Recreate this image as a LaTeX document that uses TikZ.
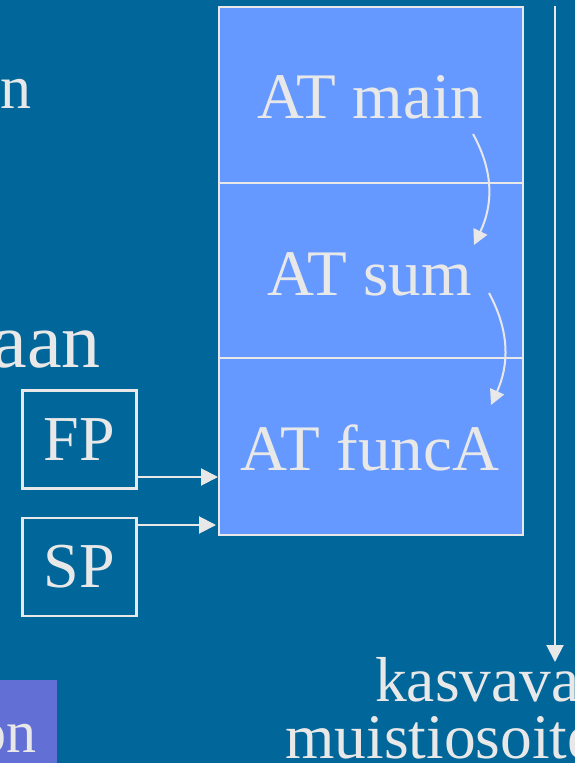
\documentclass[tikz,border=0pt]{standalone}
\usepackage{fontspec}
\setmainfont{Liberation Serif}
\usetikzlibrary{arrows.meta}
\definecolor{bgblue}{RGB}{1,102,153}
\definecolor{stackblue}{RGB}{102,153,255}
\definecolor{fg}{RGB}{232,232,232}
\definecolor{purplebox}{RGB}{98,112,214}
\tikzset{
  cell/.style={draw=fg, line width=2pt, fill=stackblue, minimum width=304pt, inner sep=0pt},
  regbox/.style={draw=fg, line width=2.5pt, minimum width=114pt, minimum height=98pt, inner sep=0pt, text=fg, font=\fontsize{64}{70}\selectfont},
  big/.style={text=fg, font=\fontsize{65}{70}\selectfont, inner sep=0pt},
  lowtext/.style={text=fg, font=\fontsize{63.5}{70}\selectfont, inner sep=0pt},
  arr/.style={draw=fg, line width=2pt, -{Triangle[length=17pt,width=17pt]}},
  carr/.style={draw=fg, line width=2pt, -{Triangle[length=15pt,width=15pt]}}
}
\begin{document}
\begin{tikzpicture}[x=1pt,y=-1pt]
\useasboundingbox (0,0) rectangle (575,763);
\fill[bgblue] (0,0) rectangle (575,763);
\clip (0,0) rectangle (575,763);
% purple box at bottom left
\node[fill=purplebox, minimum width=57pt, minimum height=83pt, inner sep=0pt, anchor=north west] (pbox) at (0,680) {};
% stack cells
\node[cell, minimum height=176pt, anchor=north west] (main) at (218,6) {};
\node[cell, minimum height=175pt, anchor=north west] (sum) at (218,182) {};
\node[cell, minimum height=177pt, anchor=north west] (funcA) at (218,357) {};
\node[big, anchor=base] (tmain) at (370,118) {AT main};
\node[big, anchor=base] (tsum) at (370,295) {AT sum};
\node[big, anchor=base] (tfunc) at (370,470) {AT funcA};
% curved arrows
\coordinate (c1s) at (473,134);
\coordinate (c1e) at (474,245);
\coordinate (c2s) at (489,293);
\coordinate (c2e) at (491,405);
\draw[carr] (c1s) .. controls (494,172) and (493,205) .. (c1e);
\draw[carr] (c2s) .. controls (510,332) and (509,365) .. (c2e);
% FP and SP
\node[regbox] (fp) at (79.5,439.5) {FP};
\node[regbox] (sp) at (79.5,567) {SP};
\coordinate (fpa) at ([yshift=-37.5pt]fp.east);
\coordinate (spa) at ([yshift=42pt]sp.east);
\draw[arr] (fpa) -- (fpa -| funcA.west);
\draw[arr] (spa) -- ([xshift=-2pt]spa -| funcA.west);
% growth arrow
\coordinate (gtop) at (555,6);
\coordinate (gbot) at (555,662);
\draw[arr] (gtop) -- (gbot);
\node[lowtext, anchor=base west] (kas) at (375,701) {kasvava};
\node[lowtext, anchor=base west] (mui) at (285,758) {muistiosoite};
% left text fragments
\node[text=fg, inner sep=0pt, font=\fontsize{62}{70}\selectfont, anchor=base west] (tn) at (0,108) {n};
\node[text=fg, inner sep=0pt, font=\fontsize{78}{80}\selectfont, anchor=base east] (taan) at (101,367) {aan};
\node[text=fg, inner sep=0pt, font=\fontsize{60}{70}\selectfont, anchor=base east] (ton) at (37,752) {on};
\end{tikzpicture}
\end{document}
